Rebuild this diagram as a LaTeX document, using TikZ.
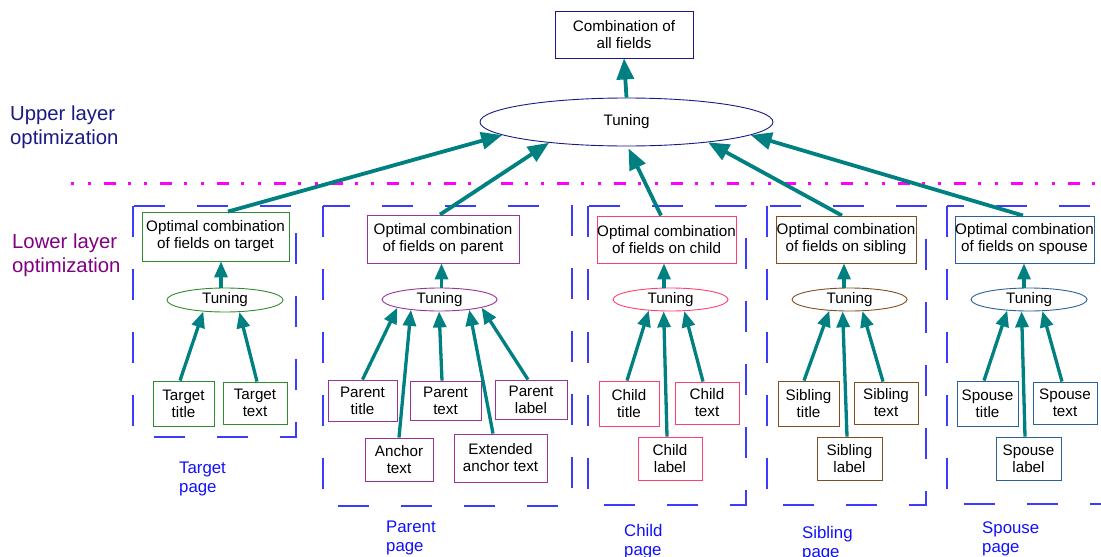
\documentclass[tikz,border=0pt]{standalone}
\usepackage{fontspec}
\setmainfont{Liberation Sans}
\usetikzlibrary{shapes.geometric,arrows.meta,calc}
\definecolor{navyc}{HTML}{1A1A85}
\definecolor{purpc}{HTML}{800080}
\definecolor{tealc}{HTML}{008080}
\definecolor{magc}{HTML}{FF00FF}
\definecolor{framec}{HTML}{3B3BFF}
\definecolor{pagec}{HTML}{1010FF}
\definecolor{tgreen}{HTML}{2E8B2E}
\definecolor{ppurple}{HTML}{993399}
\definecolor{cpink}{HTML}{FF3F6F}
\definecolor{sbrown}{HTML}{7F4F1F}
\definecolor{sblue}{HTML}{2B609A}
\begin{document}
\begin{tikzpicture}[x=1pt,y=-1pt,
  nfont/.style={font=\fontsize{15.2}{17}\selectfont},
  fbox/.style={draw, rectangle, inner sep=0pt, align=center, line width=0.9pt, nfont},
  tun/.style={draw, ellipse, inner sep=0pt, line width=0.9pt, nfont, minimum width=115pt, minimum height=23pt},
  arr/.style={-{Triangle[length=16pt,width=13pt]}, line width=3.3pt, tealc},
  bigarr/.style={-{Triangle[length=21pt,width=17pt]}, line width=3.8pt, tealc},
  frame/.style={draw=framec, line width=1.2pt, dash pattern=on 31pt off 32pt},
  pagelbl/.style={anchor=west, align=left, text=pagec, font=\fontsize{16.8}{19}\selectfont, inner sep=0pt},
  layerlbl/.style={anchor=west, align=left, font=\fontsize{20.3}{24}\selectfont, inner sep=0pt}]
\useasboundingbox (0,0) rectangle (1101,557);

% frames
\draw[frame] (133,206) rectangle (296,437);
\draw[frame] (323,206) rectangle (572,506);
\draw[frame] (588,206) rectangle (746,505);
\draw[frame] (767,206) rectangle (926,505);
\draw[frame] (947,206) rectangle (1130,504);

% magenta separator
\draw[magc, line width=3pt, dash pattern=on 3pt off 13.7pt on 3pt off 13pt on 12pt off 12pt] (71,183) -- (1101,183);

% layer labels
\node[layerlbl, text=navyc] (ul) at (10,127.5) {Upper layer\\optimization};
\node[layerlbl, text=purpc] (ll) at (12,255.5) {Lower layer\\optimization};

% top
\node[fbox, draw=navyc, minimum width=138pt, minimum height=47pt] (top) at (624,34.5) {Combination of\\all fields};
\node[draw=navyc, ellipse, inner sep=0pt, line width=0.9pt, nfont, minimum width=293pt, minimum height=48pt] (big) at (626.5,122) {Tuning};

% target
\node[fbox, draw=tgreen, minimum width=147pt, minimum height=49pt] (optT) at (215.5,236.5) {Optimal combination\\of fields on target};
\node[tun, draw=tgreen, minimum width=116pt, minimum height=24pt] (tT) at (225,300) {Tuning};
\node[fbox, draw=tgreen, minimum width=61pt, minimum height=45pt] (tt) at (183.5,403.5) {Target\\title};
\node[fbox, draw=tgreen, minimum width=64pt, minimum height=42pt] (tx) at (255,403) {Target\\text};
\node[pagelbl] (pT) at (179,479) {Target\\page};

% parent
\node[fbox, draw=ppurple, minimum width=152pt, minimum height=48pt] (optP) at (443,239) {Optimal combination\\of fields on parent};
\node[tun, draw=ppurple] (tP) at (439.5,299.5) {Tuning};
\node[fbox, draw=ppurple, minimum width=69pt, minimum height=41pt] (pti) at (362.5,400.5) {Parent\\title};
\node[fbox, draw=ppurple, minimum width=68pt, minimum height=43pt] (pan) at (399,459.5) {Anchor\\text};
\node[fbox, draw=ppurple, minimum width=71pt, minimum height=39pt] (pte) at (445.5,400.5) {Parent\\text};
\node[fbox, draw=ppurple, minimum width=93pt, minimum height=48pt] (pex) at (500.5,458) {Extended\\anchor text};
\node[fbox, draw=ppurple, minimum width=72pt, minimum height=39pt] (pla) at (531,399.5) {Parent\\label};
\node[pagelbl] (pP) at (386,538) {Parent\\page};

% child
\node[fbox, draw=cpink, minimum width=139pt, minimum height=47pt] (optC) at (666.5,239.5) {Optimal combination\\of fields on child};
\node[tun, draw=cpink] (tC) at (670.5,299.5) {Tuning};
\node[fbox, draw=cpink, minimum width=60pt, minimum height=45pt] (cti) at (629,403.5) {Child\\title};
\node[fbox, draw=cpink, minimum width=64pt, minimum height=42pt] (cte) at (707,403) {Child\\text};
\node[fbox, draw=cpink, minimum width=64pt, minimum height=43pt] (cla) at (670,458.5) {Child\\label};
\node[pagelbl] (pC) at (624,541.5) {Child\\page};

% sibling
\node[fbox, draw=sbrown, minimum width=140pt, minimum height=47pt] (optS) at (846,239.5) {Optimal combination\\of fields on sibling};
\node[tun, draw=sbrown] (tS) at (849.5,299.5) {Tuning};
\node[fbox, draw=sbrown, minimum width=61pt, minimum height=45pt] (sti) at (808.5,403.5) {Sibling\\title};
\node[fbox, draw=sbrown, minimum width=64pt, minimum height=42pt] (ste) at (886,403) {Sibling\\text};
\node[fbox, draw=sbrown, minimum width=65pt, minimum height=43pt] (sla) at (849.5,458.5) {Sibling\\label};
\node[pagelbl] (pS) at (802,544) {Sibling\\page};

% spouse
\node[fbox, draw=sblue, minimum width=139pt, minimum height=47pt] (optSp) at (1024.5,239.5) {Optimal combination\\of fields on spouse};
\node[tun, draw=sblue, minimum width=116pt] (tSp) at (1029,299.5) {Tuning};
\node[fbox, draw=sblue, minimum width=61pt, minimum height=45pt] (spti) at (987.5,403.5) {Spouse\\title};
\node[fbox, draw=sblue, minimum width=64pt, minimum height=42pt] (spte) at (1065,403) {Spouse\\text};
\node[fbox, draw=sblue, minimum width=65pt, minimum height=43pt] (spla) at (1028.5,458.5) {Spouse\\label};
\node[pagelbl] (pSp) at (982,539) {Spouse\\page};

% upper arrows
\draw[bigarr] (big.north) -- (top.south);
\draw[bigarr] ([xshift=12.5pt]optT.north) -- (big.186.5);
\draw[bigarr] ([xshift=-3pt]optP.north) -- (big.195.7);
\draw[bigarr] ([xshift=-5.5pt]optC.north) -- ([xshift=2pt,yshift=-2pt]big.south);
\draw[bigarr] ([xshift=-4pt]optS.north) -- (big.-14.8);
\draw[bigarr] ([xshift=-1.5pt]optSp.north) -- (big.-6.8);

% tuning -> optimal
\draw[arr] ([xshift=-4pt]tT.north) -- ([xshift=5.5pt]optT.south);
\draw[arr] ([xshift=2pt]tP.north) -- ([xshift=-1.5pt]optP.south);
\draw[arr] ([xshift=-6.5pt]tC.north) -- ([xshift=-2.5pt]optC.south);
\draw[arr] ([xshift=-5.5pt]tS.north) -- ([xshift=-2pt]optS.south);
\draw[arr] ([xshift=-5pt]tSp.north) -- ([xshift=-0.5pt]optSp.south);

% target fields
\draw[arr] ([xshift=-3.5pt]tt.north) -- (tT.208);
\draw[arr] ([xshift=2pt]tx.north) -- (tT.320);

% parent fields
\draw[arr] (pti.north) -- (tP.191.4);
\draw[arr] (pan.north) -- (tP.200.2);
\draw[arr] ([xshift=-3.5pt]pte.north) -- (tP.268);
\draw[arr] ([xshift=-7.5pt]pex.north) -- (tP.341.5);
\draw[arr] ([xshift=-3pt]pla.north) -- (tP.349.7);

% child fields
\draw[arr] ([xshift=-2pt]cti.north) -- (tC.207.6);
\draw[arr] ([xshift=-3pt]cla.north) -- (tC.240.3);
\draw[arr] ([xshift=-4pt]cte.north) -- (tC.320.3);

% sibling fields
\draw[arr] ([xshift=-4.5pt]sti.north) -- (tS.209);
\draw[arr] ([xshift=-2.5pt]sla.north) -- (tS.240.3);
\draw[arr] ([xshift=-3pt]ste.north) -- (tS.318.2);

% spouse fields
\draw[arr] ([xshift=-3.5pt]spti.north) -- (tSp.207);
\draw[arr] ([xshift=-3.5pt]spla.north) -- (tSp.238.4);
\draw[arr] ([xshift=-3pt]spte.north) -- (tSp.319.3);
\end{tikzpicture}
\end{document}
